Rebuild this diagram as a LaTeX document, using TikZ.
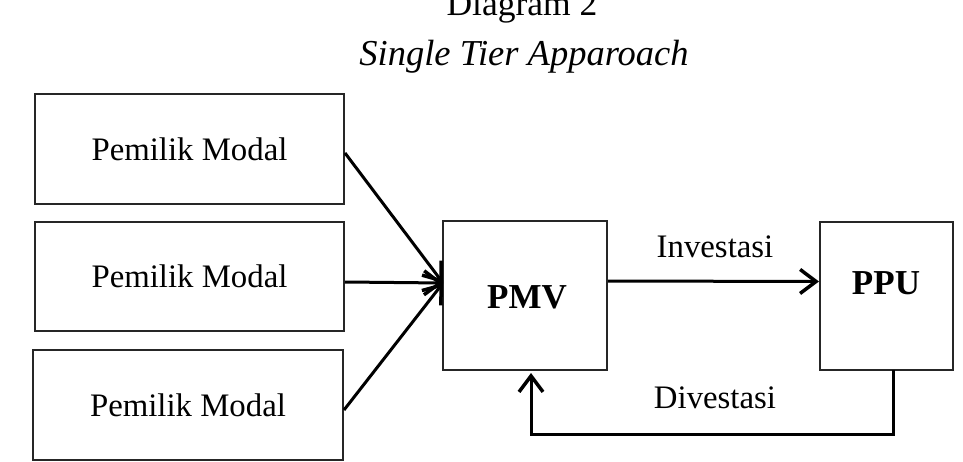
\documentclass[tikz,border=0pt]{standalone}
\usepackage{fontspec}
\setmainfont{Liberation Serif}
\usetikzlibrary{arrows.meta}
\begin{document}
\begin{tikzpicture}[x=1pt,y=-1pt,
  box/.style={draw=black!85,line width=2pt,inner sep=0pt,font=\fontsize{32.8}{36}\selectfont},
  conn/.style={line width=3pt,black},
  tip/.style={-{Straight Barb[length=16pt,width=24pt,line width=3.5pt]}},
  lbl/.style={font=\fontsize{32.8}{36}\selectfont,inner sep=0pt},
  bold/.style={font=\fontsize{35}{40}\selectfont\bfseries,inner sep=0pt}]
\useasboundingbox (0,0) rectangle (963,462);
\node[inner sep=0pt,font=\fontsize{35.5}{40}\selectfont] (t1) at (522,8) {Diagram 2};
\node[inner sep=0pt,font=\fontsize{36.5}{40}\selectfont\itshape] (t2) at (524,57) {Single Tier Apparoach};
\node[box,minimum width=309pt,minimum height=110pt] (b1) at (189.5,149) {Pemilik Modal};
\node[box,minimum width=309pt,minimum height=109pt] (b2) at (189.5,276.5) {Pemilik Modal};
\node[box,minimum width=310pt,minimum height=110pt] (b3) at (188,405) {Pemilik Modal};
\node[box,minimum width=164pt,minimum height=149pt] (pmv) at (525,295.5) {};
\node[bold] (pmvl) at (527,297) {PMV};
\node[box,minimum width=133pt,minimum height=148pt] (ppu) at (886.5,296) {};
\node[bold] (ppul) at (886,283) {PPU};
\coordinate (tgt) at (443,283);
\draw[conn,tip] ([yshift=-4pt]b1.east) -- (tgt);
\draw[conn,tip] ([yshift=-5.5pt]b2.east) -- (tgt);
\draw[conn,tip] ([yshift=-5pt]b3.east) -- (tgt);
\draw[conn,tip] ([yshift=14.5pt]pmv.east) -- ([yshift=14.5pt]ppu.west);
\node[lbl] (inv) at (715,247) {Investasi};
\coordinate (dc) at (893,434);
\draw[conn,tip,line cap=rect] ([xshift=6.5pt]ppu.south) -- (dc) -| ([xshift=6pt,yshift=-2pt]pmv.south);
\node[lbl] (div) at (715,398) {Divestasi};
\end{tikzpicture}
\end{document}
